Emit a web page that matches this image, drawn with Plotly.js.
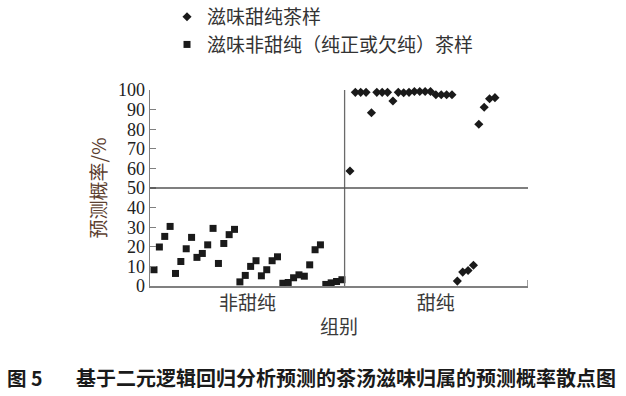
<!DOCTYPE html>
<html>
<head>
<meta charset="utf-8">
<script src="https://cdn.plot.ly/plotly-3.0.1.min.js"></script>
<style>html,body{margin:0;padding:0;background:#fff;}#chart{width:626px;height:396px;}</style>
</head>
<body>
<div id="chart"></div>
<script>
// Sample order positions and predicted probability (%)
const nonSweetX = [1,2,3,4,5,6,7,8,9,10,11,12,13,14,15,16,17,18,19,20,21,22,23,24,25,26,27,28,29,30,31,32,33,34,35,36];
const nonSweetY = [8.3,19.9,25.3,30.4,6.4,12.5,19.0,24.8,14.6,16.6,21.0,29.4,11.5,21.7,26.2,28.9,2.1,5.4,10.0,12.9,5.2,8.3,12.9,14.9,1.4,1.8,4.2,5.7,5.0,10.8,18.5,21.0,0.8,1.6,2.3,3.2];
const sweetX = [37.5,38.5,39.5,40.5,41.5,42.5,43.5,44.5,45.5,46.5,47.5,48.5,49.5,50.5,51.5,52.5,53.5,54.5,55.5,56.5,57.5,58.5,59.5,60.5,61.5,62.5,63.5,64.5];
const sweetY = [58.7,98.8,98.8,98.8,88.4,98.8,98.8,98.8,94.4,98.8,98.6,98.8,99.2,99.2,99.2,99.2,97.6,97.6,97.6,97.6,2.5,7.1,7.9,10.6,82.5,91.2,95.5,96.1];
const groupLabels = ['非甜纯','甜纯'];
const groupLabelPos = [18.4, 53.5];
const seriesNames = ['滋味甜纯茶样','滋味非甜纯（纯正或欠纯）茶样'];
const yTicks = [0,10,20,30,40,50,60,70,80,90,100];
const divideAt = 36.5;
const threshold = 50;

const X0 = 0.255, X1 = 70.66;
const cjk = '"Noto Sans CJK SC", sans-serif';
const serif = '"Liberation Serif", "DejaVu Serif", serif';

const traces = [
  {x: sweetX, y: sweetY, name: seriesNames[0], mode: 'markers', type: 'scatter',
   cliponaxis: false, marker: {symbol: 'diamond', size: 7, color: '#1a1a1a'}},
  {x: nonSweetX, y: nonSweetY, name: seriesNames[1], mode: 'markers', type: 'scatter',
   cliponaxis: false, marker: {symbol: 'square', size: 7, color: '#1a1a1a'}}
];

const layout = {
  width: 626, height: 396,
  margin: {l: 150, r: 98, t: 90, b: 110, autoexpand: false},
  paper_bgcolor: '#fff', plot_bgcolor: '#fff',
  showlegend: true,
  legend: {x: 0.045, xanchor: 'left', y: 1.47, yanchor: 'top',
    font: {family: cjk, size: 19, color: '#333'}, bgcolor: 'rgba(0,0,0,0)',
    tracegroupgap: 4, traceorder: 'normal'},
  xaxis: {range: [X0, X1], showgrid: false, zeroline: false, showline: true,
    linecolor: '#808080', linewidth: 1.5, ticks: '',
    tickvals: groupLabelPos, ticktext: groupLabels,
    tickfont: {family: cjk, size: 19, color: '#3a3a3a'},
    title: {text: '组别', font: {family: cjk, size: 19, color: '#3a3a3a'}, standoff: 6}},
  yaxis: {range: [0, 100], showgrid: false, zeroline: false, showline: true,
    linecolor: '#808080', linewidth: 1.5, ticks: 'inside', ticklen: 6, tickcolor: '#808080', tickwidth: 1.2,
    tickvals: yTicks, ticktext: yTicks.map(String),
    tickfont: {family: serif, size: 18, color: '#222'},
    title: {text: '预测概率/%', font: {family: cjk, size: 19, color: '#5c4030'}, standoff: 6}},
  shapes: [
    {type: 'line', xref: 'x', yref: 'y', x0: divideAt, x1: divideAt, y0: 0, y1: 100,
     line: {color: '#6a6a6a', width: 1.3}},
    {type: 'line', xref: 'x', yref: 'y', x0: X0, x1: X1, y0: threshold, y1: threshold,
     line: {color: '#555', width: 1.3}},
    {type: 'line', xref: 'x', yref: 'y', x0: X1, x1: X1, y0: 0, y1: 3,
     line: {color: '#808080', width: 1.5}}
  ],
  annotations: [
    {text: '<b>图 5</b>', xref: 'paper', yref: 'paper', x: -0.384, y: -0.465, xanchor: 'left', yanchor: 'middle',
     showarrow: false, font: {family: cjk, size: 19.5, color: '#1a1a1a'}},
    {text: '<b>基于二元逻辑回归分析预测的茶汤滋味归属的预测概率散点图</b>', xref: 'paper', yref: 'paper',
     x: -0.2, y: -0.465, xanchor: 'left', yanchor: 'middle',
     showarrow: false, font: {family: cjk, size: 20, color: '#1a1a1a'}}
  ]
};

Plotly.newPlot('chart', traces, layout, {displayModeBar: false, staticPlot: true});
</script>
</body>
</html>
